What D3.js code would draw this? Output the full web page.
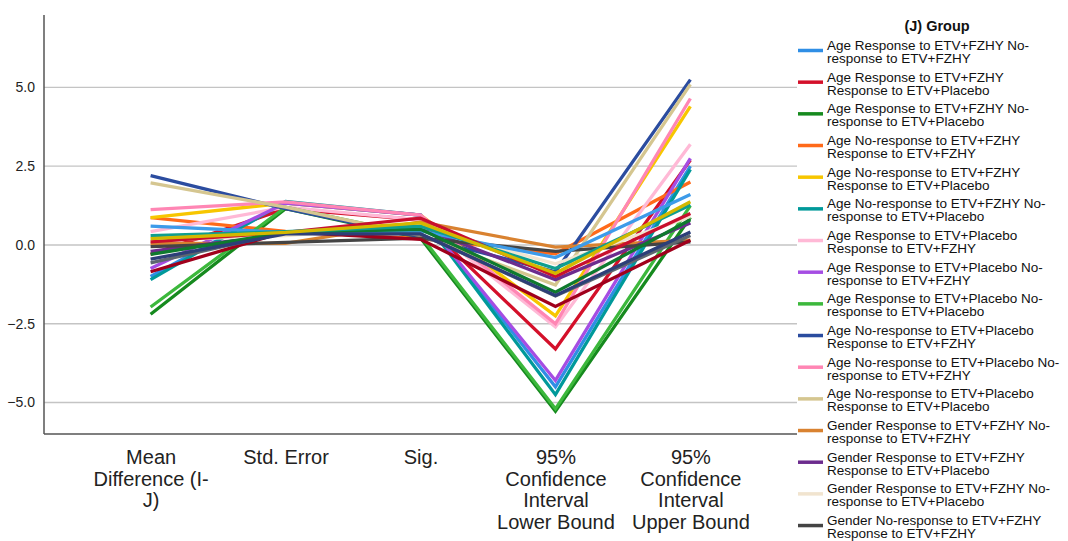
<!DOCTYPE html>
<html>
<head>
<meta charset="utf-8">
<script src="https://cdn.jsdelivr.net/npm/d3@7"></script>
<style>
  html, body { margin: 0; padding: 0; background: #ffffff; }
  svg { display: block; font-family: "Liberation Sans", Arial, sans-serif; }
</style>
</head>
<body>
<svg id="chart" width="1068" height="541"></svg>
<script>
// Statistic shown on the x axis
const categories = [
  "Mean Difference (I-J)",
  "Std. Error",
  "Sig.",
  "95% Confidence Interval Lower Bound",
  "95% Confidence Interval Upper Bound"
];

// (J) Group series
const groups = [
  "Age Response to ETV+FZHY No-response to ETV+FZHY",
  "Age Response to ETV+FZHY Response to ETV+Placebo",
  "Age Response to ETV+FZHY No-response to ETV+Placebo",
  "Age No-response to ETV+FZHY Response to ETV+FZHY",
  "Age No-response to ETV+FZHY Response to ETV+Placebo",
  "Age No-response to ETV+FZHY No-response to ETV+Placebo",
  "Age Response to ETV+Placebo Response to ETV+FZHY",
  "Age Response to ETV+Placebo No-response to ETV+FZHY",
  "Age Response to ETV+Placebo No-response to ETV+Placebo",
  "Age No-response to ETV+Placebo Response to ETV+FZHY",
  "Age No-response to ETV+Placebo No-response to ETV+FZHY",
  "Age No-response to ETV+Placebo Response to ETV+Placebo",
  "Gender Response to ETV+FZHY No-response to ETV+FZHY",
  "Gender Response to ETV+FZHY Response to ETV+Placebo",
  "Gender Response to ETV+FZHY No-response to ETV+Placebo",
  "Gender No-response to ETV+FZHY Response to ETV+FZHY",
  "Gender No-response to ETV+FZHY Response to ETV+Placebo",
  "Gender No-response to ETV+FZHY No-response to ETV+Placebo",
  "Gender Response to ETV+Placebo Response to ETV+FZHY",
  "Gender Response to ETV+Placebo No-response to ETV+FZHY",
  "Gender Response to ETV+Placebo No-response to ETV+Placebo",
  "Gender No-response to ETV+Placebo Response to ETV+FZHY",
  "Gender No-response to ETV+Placebo No-response to ETV+FZHY",
  "Gender No-response to ETV+Placebo Response to ETV+Placebo"
];

// One value per group for each statistic
const meanDiff   = [-1.00, -0.30, -2.20, 0.87, 0.87, -1.10, 0.42, -0.75, -1.97, 2.20, 1.12, 1.97,
                     0.05, -0.20, 0.15, -0.05, -0.85, -0.57, 0.60, 0.10, -0.30, 0.30, -0.45, 0.20];
const stdError   = [1.33, 1.15, 1.15, 0.43, 1.33, 1.38, 1.20, 1.33, 1.20, 1.15, 1.37, 1.20,
                    0.05, 0.35, 0.30, 0.08, 0.42, 0.40, 0.40, 0.40, 0.40, 0.42, 0.35, 0.40];
const sig        = [0.95, 0.80, 0.22, 0.20, 0.95, 0.95, 0.80, 0.95, 0.30, 0.26, 0.95, 0.30,
                    0.73, 0.55, 0.60, 0.22, 0.18, 0.35, 0.45, 0.85, 0.50, 0.60, 0.35, 0.70];
const lowerBound = [-4.50, -3.30, -5.28, -0.28, -2.25, -4.75, -2.60, -4.30, -5.20, -0.85, -2.50, -1.27,
                    -0.07, -1.10, -0.60, -0.20, -1.95, -1.62, -0.40, -1.00, -1.50, -0.75, -1.60, -0.90];
const upperBound = [2.50, 2.70, 0.88, 2.00, 4.40, 2.40, 3.20, 2.75, 1.25, 5.25, 4.65, 5.10,
                    0.15, 0.70, 0.90, 0.10, 0.15, 0.30, 1.60, 1.00, 0.80, 1.27, 0.41, 1.37];

// Axis ticks
const yTicks = [-5.0, -2.5, 0.0, 2.5, 5.0];

// Line colours, in group order
const palette = [
  "#2f8ee5", "#d4102a", "#168a1e", "#ff6a1a", "#f7c600", "#00999a",
  "#ffb9d6", "#a54de3", "#3cb83c", "#2b4c9f", "#ff86b4", "#d5c690",
  "#d98230", "#6c2c8e", "#f1e4cf", "#444444", "#a0001c", "#5d6770",
  "#3d9be9", "#c8102e", "#0f7a2e", "#0f9e8e", "#2d3f78", "#d4b800"
];

const statArrays = [meanDiff, stdError, sig, lowerBound, upperBound];
const series = groups.map((name, i) => ({
  name,
  color: palette[i],
  values: categories.map((c, k) => ({ cat: c, v: statArrays[k][i] }))
}));

const W = 1068, H = 541;
const svg = d3.select("#chart");
const plot = { left: 44, right: 797, top: 15, bottom: 434 };

const x = d3.scalePoint()
  .domain(categories)
  .range([plot.left, plot.right])
  .padding(0.79);

const y = d3.scaleLinear()
  .domain([-6.0, 7.3])
  .range([plot.bottom, plot.top]);

// Horizontal gridlines
svg.append("g")
  .selectAll("line")
  .data(yTicks)
  .join("line")
  .attr("x1", plot.left).attr("x2", plot.right)
  .attr("y1", d => y(d)).attr("y2", d => y(d))
  .attr("stroke", "#c4c4c4")
  .attr("stroke-width", 1.3);

// Y axis
const yAxis = svg.append("g")
  .attr("transform", `translate(${plot.left},0)`)
  .call(d3.axisLeft(y).tickValues(yTicks).tickFormat(d3.format(".1f")).tickSize(0).tickPadding(9));
yAxis.select(".domain").remove();
yAxis.selectAll("text")
  .attr("font-size", 14)
  .attr("fill", "#222")
  .style("font-family", "'Liberation Sans', Arial, sans-serif");

// Wrap text into lines no wider than maxWidth, breaking at spaces and after hyphens
function wrapLines(str, fontSize, maxWidth, weight) {
  const tokens = str.match(/[^\s-]+-?|-/g);
  const probe = svg.append("text")
    .attr("font-size", fontSize)
    .attr("font-weight", weight || "normal")
    .style("font-family", "'Liberation Sans', Arial, sans-serif");
  const measure = s => { probe.text(s); return probe.node().getComputedTextLength(); };
  const lines = [];
  let cur = "";
  tokens.forEach(tok => {
    const joiner = (cur === "" || cur.endsWith("-")) ? "" : " ";
    const trial = cur + joiner + tok;
    if (cur !== "" && measure(trial) > maxWidth) {
      lines.push(cur);
      cur = tok;
    } else {
      cur = trial;
    }
  });
  if (cur) lines.push(cur);
  probe.remove();
  return lines;
}

// X axis
const xAxis = svg.append("g")
  .attr("transform", `translate(0,${plot.bottom})`)
  .call(d3.axisBottom(x).tickSize(0).tickFormat(""));
xAxis.select(".domain").remove();
xAxis.selectAll(".tick").each(function (d) {
  const lines = wrapLines(d, 20, 120);
  const t = d3.select(this).append("text")
    .attr("text-anchor", "middle")
    .attr("font-size", 20)
    .attr("fill", "#222")
    .style("font-family", "'Liberation Sans', Arial, sans-serif");
  lines.forEach((ln, j) => {
    t.append("tspan").attr("x", 0).attr("y", 30 + j * 21.5).text(ln);
  });
});

// Axis lines
svg.append("line")
  .attr("x1", plot.left).attr("x2", plot.left)
  .attr("y1", plot.top).attr("y2", plot.bottom)
  .attr("stroke", "#555").attr("stroke-width", 1.5);
svg.append("line")
  .attr("x1", plot.left).attr("x2", plot.right)
  .attr("y1", plot.bottom).attr("y2", plot.bottom)
  .attr("stroke", "#555").attr("stroke-width", 1.5);

// Series lines
const line = d3.line()
  .x(d => x(d.cat))
  .y(d => y(d.v));

svg.append("g")
  .selectAll("path")
  .data(series)
  .join("path")
  .attr("d", d => line(d.values))
  .attr("fill", "none")
  .attr("stroke", d => d.color)
  .attr("stroke-width", 3.3)
  .attr("stroke-linejoin", "miter");

// Legend: entries are listed until the space below the title runs out
const legend = svg.append("g");
legend.append("text")
  .attr("x", 937).attr("y", 31)
  .attr("text-anchor", "middle")
  .attr("font-size", 14.5)
  .attr("font-weight", "bold")
  .attr("fill", "#111")
  .text("(J) Group");

const itemStep = 31.67;
const lineGap = 13;
series.forEach((s, i) => {
  const base = 50 + i * itemStep;
  const lines = wrapLines(s.name, 13.5, 236);
  if (base + (lines.length - 1) * lineGap > H) return;
  const g = legend.append("g");
  g.append("line")
    .attr("x1", 798).attr("x2", 823)
    .attr("y1", base + 0.5).attr("y2", base + 0.5)
    .attr("stroke", s.color)
    .attr("stroke-width", 3.5);
  const t = g.append("text")
    .attr("font-size", 13.5)
    .attr("fill", "#111");
  lines.forEach((ln, j) => {
    t.append("tspan").attr("x", 827).attr("y", base + j * lineGap).text(ln);
  });
});
</script>
</body>
</html>
